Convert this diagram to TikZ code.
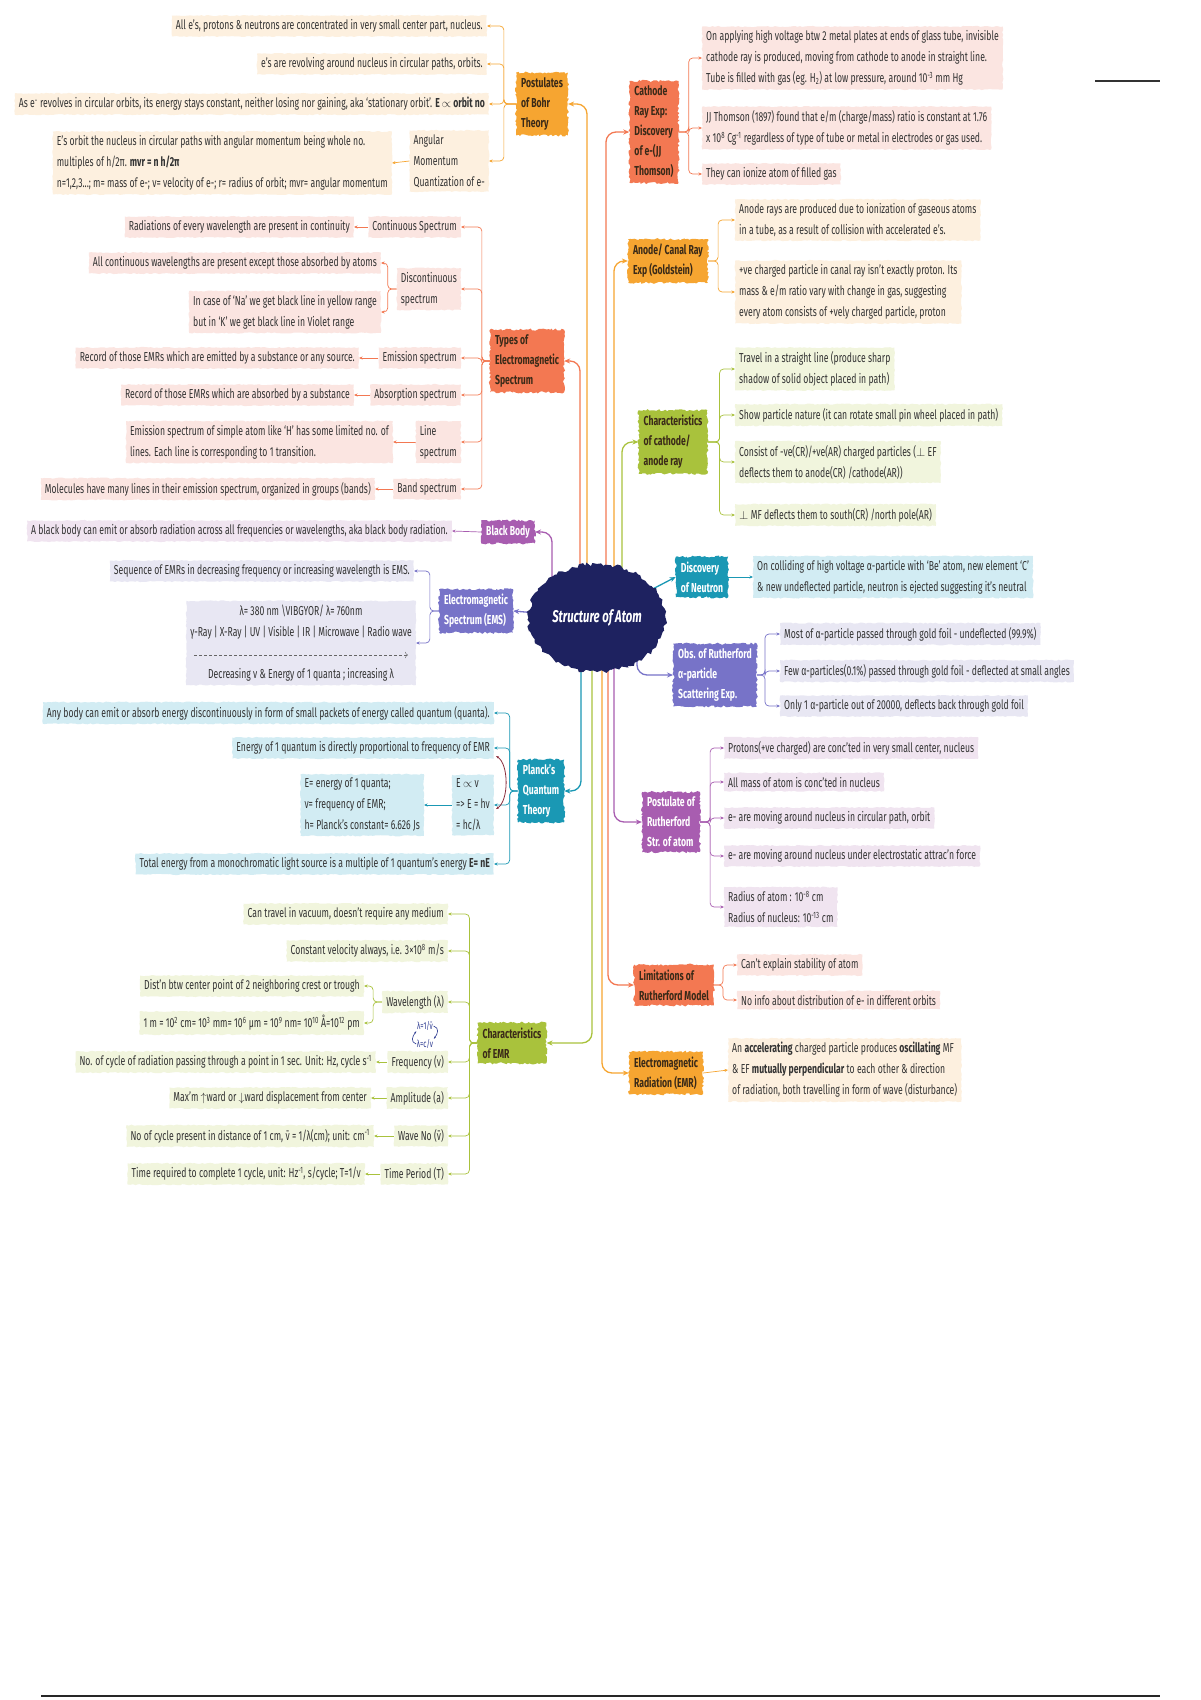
\documentclass[tikz,border=0pt]{standalone}
\usepackage{fontspec}
\setmainfont{Fira Sans}[FakeStretch=0.665]
\usetikzlibrary{positioning, arrows.meta, calc, backgrounds, decorations.pathmorphing, shapes.geometric}

\definecolor{orangeB}{HTML}{F6A531}
\definecolor{coral}{HTML}{F37852}
\definecolor{greenB}{HTML}{A9C23C}
\definecolor{teal}{HTML}{1A98B4}
\definecolor{slate}{HTML}{7773C8}
\definecolor{purpleB}{HTML}{A85DB0}
\definecolor{navy}{HTML}{1E2260}
\definecolor{peach}{HTML}{FDF0DF}
\definecolor{pink}{HTML}{FBE5E1}
\definecolor{lgreen}{HTML}{F1F5DD}
\definecolor{cyan}{HTML}{D2ECF3}
\definecolor{lavender}{HTML}{E8E7F3}
\definecolor{mauve}{HTML}{F0E4F0}
\definecolor{darktxt}{HTML}{3A2A18}
\definecolor{ink}{HTML}{2B3990}
\definecolor{maroon}{HTML}{8B2D3C}

\newcommand{\kidfont}{\fontsize{13}{21}\selectfont}
\newcommand{\topicfont}{\fontsize{13}{20}\selectfont\bfseries}
\newcommand{\atomfont}{\fontsize{17}{20}\selectfont\bfseries\itshape}

\pgfmathsetseed{7}

\begin{document}
\begin{tikzpicture}[x=1pt, y=-1pt,
    kid/.style={fill=#1, inner sep=4pt, align=left, text=black!80, font=\kidfont,
        decorate, decoration={random steps, segment length=2.5pt, amplitude=0.6pt}},
    topic/.style={fill=#1, inner sep=5pt, align=left, font=\topicfont,
        decorate, decoration={random steps, segment length=2pt, amplitude=1.1pt}},
    hot/.style={topic=#1, text=darktxt},
    cool/.style={topic=#1, text=white},
    link/.style={draw=#1, line width=0.7pt, rounded corners=4pt, -{Stealth[length=3.5pt,width=3pt]}},
    trunk/.style={draw=#1, line width=1.3pt, rounded corners=10pt, -{Stealth[length=6pt,width=5pt]}}]

\begin{scope}[on background layer]
    \fill[white] (0,0) rectangle (1200,1700);
\end{scope}
\useasboundingbox (0,0) rectangle (1200,1700);

% centre
\node[ellipse, fill=navy, text=white, font=\atomfont, minimum width=137pt, minimum height=108pt, inner sep=0pt,
    decorate, decoration={random steps, segment length=3pt, amplitude=2pt}] (atom) at (597,618) {Structure of Atom};

% Bohr
\node[hot=orangeB] (bohr) at (542,104) {Postulates\\of Bohr\\Theory};
\node[kid=peach, anchor=east] (bohr1) at (487,26) {All e's, protons \& neutrons are concentrated in very small center part, nucleus.};
\node[kid=peach, anchor=east] (bohr2) at (487,64) {e's are revolving around nucleus in circular paths, orbits.};
\node[kid=peach, anchor=east] (bohr3) at (489,104) {As e\textsuperscript{-} revolves in circular orbits, its energy stays constant, neither losing nor gaining, aka `stationary orbit'. \textbf{E $\propto$ orbit no}};
\node[kid=peach, anchor=east] (bohr4) at (489,161) {Angular\\Momentum\\Quantization of e-};
\node[kid=peach, anchor=east] (bohr4a) at (392,163) {E's orbit the nucleus in circular paths with angular momentum being whole no.\\multiples of h/2π. \textbf{mvr = n h/2π}\\n=1,2,3...; m= mass of e-; v= velocity of e-; r= radius of orbit; mvr= angular momentum};

% types of spectrum
\node[hot=coral] (types) at (527,361) {Types of\\Electromagnetic\\Spectrum};
\node[kid=pink, anchor=east] (cont) at (461,227) {Continuous Spectrum};
\node[kid=pink, anchor=east] (conta) at (354,227) {Radiations of every wavelength are present in continuity};
\node[kid=pink, anchor=east] (disc) at (461,289) {Discontinuous\\spectrum};
\node[kid=pink, anchor=east] (disca) at (381,263) {All continuous wavelengths are present except those absorbed by atoms};
\node[kid=pink, anchor=east] (discb) at (381,312) {In case of `Na' we get black line in yellow range\\but in `K' we get black line in Violet range};
\node[kid=pink, anchor=east] (emis) at (461,358) {Emission spectrum};
\node[kid=pink, anchor=east] (emisa) at (359,358) {Record of those EMRs which are emitted by a substance or any source.};
\node[kid=pink, anchor=east] (abso) at (461,395) {Absorption spectrum};
\node[kid=pink, anchor=east] (absoa) at (354,395) {Record of those EMRs which are absorbed by a substance};
\node[kid=pink, anchor=east] (lspec) at (461,442) {Line\\spectrum};
\node[kid=pink, anchor=east] (lspeca) at (393,442) {Emission spectrum of simple atom like `H' has some limited no. of\\lines. Each line is corresponding to 1 transition.};
\node[kid=pink, anchor=east] (band) at (461,489) {Band spectrum};
\node[kid=pink, anchor=east] (banda) at (375,489) {Molecules have many lines in their emission spectrum, organized in groups (bands)};

% black body
\node[cool=purpleB] (bbody) at (508,532) {Black Body};
\node[kid=mauve, anchor=east] (bbodya) at (452,531) {A black body can emit or absorb radiation across all frequencies or wavelengths, aka black body radiation.};

% EMS
\node[cool=slate] (ems) at (476,611) {Electromagnetic\\Spectrum (EMS)};
\node[kid=lavender, anchor=east] (ems1) at (414,571) {Sequence of EMRs in decreasing frequency or increasing wavelength is EMS.};
\node[kid=lavender, anchor=east, align=center] (ems2) at (416,643) {λ= 380 nm \textbackslash VIBGYOR/ λ= 760nm\\γ-Ray | X-Ray | UV | Visible | IR | Microwave | Radio wave\\ \mbox{}\\Decreasing ν \& Energy of 1 quanta ; increasing λ};
\draw[densely dashed, -{To[length=3pt]}, black!60] ($(ems2.west)+(8,12)$) -- ($(ems2.east)+(-8,12)$);

% Planck
\node[cool=teal] (planck) at (541,791) {Planck's\\Quantum\\Theory};
\node[kid=cyan, anchor=east] (planck1) at (494,713) {Any body can emit or absorb energy discontinuously in form of small packets of energy called quantum (quanta).};
\node[kid=cyan, anchor=east] (planck2) at (494,748) {Energy of 1 quantum is directly proportional to frequency of EMR};
\node[kid=cyan, anchor=east] (planck3) at (494,805) {E $\propto$ ν\\=\textgreater{} E = hν\\= hc/λ};
\node[kid=cyan, anchor=east] (planck3a) at (424,805) {E= energy of 1 quanta;\\ν= frequency of EMR;\\h= Planck's constant= 6.626 Js};
\node[kid=cyan, anchor=east] (planck4) at (494,864) {Total energy from a monochromatic light source is a multiple of 1 quantum's energy \textbf{E= nE}};
\draw[{Stealth[length=3pt]}-{Stealth[length=3pt]}, maroon, line width=0.8pt]
    ($(planck2.east)+(2,8)$) .. controls +(13,8) and +(13,-8) .. ($(planck3.east)+(2,4)$);

% characteristics of EMR
\node[hot=greenB] (cemr) at (512,1043) {Characteristics\\of EMR};
\node[kid=lgreen, anchor=east] (cemr1) at (448,914) {Can travel in vacuum, doesn't require any medium};
\node[kid=lgreen, anchor=east] (cemr2) at (448,951) {Constant velocity always, i.e. 3×10\textsuperscript{8} m/s};
\node[kid=lgreen, anchor=east] (wavel) at (448,1002) {Wavelength (λ)};
\node[kid=lgreen, anchor=east] (wavela) at (364,986) {Dist'n btw center point of 2 neighboring crest or trough};
\node[kid=lgreen, anchor=east] (wavelb) at (364,1023) {1 m = 10\textsuperscript{2} cm= 10\textsuperscript{3} mm= 10\textsuperscript{6} μm = 10\textsuperscript{9} nm= 10\textsuperscript{10} Å=10\textsuperscript{12} pm};
\node[text=ink, font=\fontsize{10}{12}\selectfont, inner sep=0.5pt] (lamA) at (425,1026) {λ=1/ν̄};
\node[text=ink, font=\fontsize{10}{12}\selectfont, inner sep=0.5pt] (lamB) at (425,1044) {λ=c/ν};
\draw[ink, line width=0.6pt, -{Stealth[length=2.5pt]}] (lamA.east) .. controls +(6,2) and +(4,-5) .. (lamB.north east);
\draw[ink, line width=0.6pt, -{Stealth[length=2.5pt]}] (lamB.west) .. controls +(-6,-2) and +(-4,5) .. (lamA.south west);
\node[kid=lgreen, anchor=east] (freq) at (448,1062) {Frequency (ν)};
\node[kid=lgreen, anchor=east] (freqa) at (376,1062) {No. of cycle of radiation passing through a point in 1 sec. Unit: Hz, cycle s\textsuperscript{-1}};
\node[kid=lgreen, anchor=east] (ampl) at (448,1098) {Amplitude (a)};
\node[kid=lgreen, anchor=east] (ampla) at (371,1098) {Max'm $\uparrow$ward or $\downarrow$ward displacement from center};
\node[kid=lgreen, anchor=east] (wnum) at (448,1136) {Wave No (ν̄)};
\node[kid=lgreen, anchor=east] (wnuma) at (374,1136) {No of cycle present in distance of 1 cm, ν̄ = 1/λ(cm); unit: cm\textsuperscript{-1}};
\node[kid=lgreen, anchor=east] (tper) at (448,1174) {Time Period (T)};
\node[kid=lgreen, anchor=east] (tpera) at (365,1174) {Time required to complete 1 cycle, unit: Hz\textsuperscript{-1}, s/cycle; T=1/ν};

% cathode ray
\node[hot=coral] (cathode) at (654,132) {Cathode\\Ray Exp:\\Discovery\\of e-(JJ\\Thomson)};
\node[kid=pink, anchor=west] (cathode1) at (702,58) {On applying high voltage btw 2 metal plates at ends of glass tube, invisible\\cathode ray is produced, moving from cathode to anode in straight line.\\Tube is filled with gas (eg. H\textsubscript{2}) at low pressure, around 10\textsuperscript{-3} mm Hg};
\node[kid=pink, anchor=west] (cathode2) at (702,128) {JJ Thomson (1897) found that e/m (charge/mass) ratio is constant at 1.76\\x 10\textsuperscript{8} Cg\textsuperscript{-1} regardless of type of tube or metal in electrodes or gas used.};
\node[kid=pink, anchor=west] (cathode3) at (702,174) {They can ionize atom of filled gas};

% anode ray
\node[hot=orangeB] (anode) at (668,261) {Anode/ Canal Ray\\Exp (Goldstein)};
\node[kid=peach, anchor=west] (anode1) at (735,220) {Anode rays are produced due to ionization of gaseous atoms\\in a tube, as a result of collision with accelerated e's.};
\node[kid=peach, anchor=west] (anode2) at (735,292) {+ve charged particle in canal ray isn't exactly proton. Its\\mass \& e/m ratio vary with change in gas, suggesting\\every atom consists of +vely charged particle, proton};

% characteristics of rays
\node[hot=greenB] (cray) at (673,442) {Characteristics\\of cathode/\\anode ray};
\node[kid=lgreen, anchor=west] (cray1) at (735,369) {Travel in a straight line (produce sharp\\shadow of solid object placed in path)};
\node[kid=lgreen, anchor=west] (cray2) at (735,415) {Show particle nature (it can rotate small pin wheel placed in path)};
\node[kid=lgreen, anchor=west] (cray3) at (735,462) {Consist of -ve(CR)/+ve(AR) charged particles ($\perp$ EF\\deflects them to anode(CR) /cathode(AR))};
\node[kid=lgreen, anchor=west] (cray4) at (735,515) {$\perp$ MF deflects them to south(CR) /north pole(AR)};

% neutron
\node[cool=teal] (neutron) at (702,577) {Discovery\\of Neutron};
\node[kid=cyan, anchor=west] (neutron1) at (753,577) {On colliding of high voltage α-particle with `Be' atom, new element `C'\\\& new undeflected particle, neutron is ejected suggesting it's neutral};

% scattering
\node[cool=slate] (scatter) at (715,675) {Obs. of Rutherford\\α-particle\\Scattering Exp.};
\node[kid=lavender, anchor=west] (scatter1) at (780,634) {Most of α-particle passed through gold foil - undeflected (99.9\%)};
\node[kid=lavender, anchor=west] (scatter2) at (780,671) {Few α-particles(0.1\%) passed through gold foil - deflected at small angles};
\node[kid=lavender, anchor=west] (scatter3) at (780,706) {Only 1 α-particle out of 20000, deflects back through gold foil};

% Rutherford model
\node[cool=purpleB] (rpost) at (671,822) {Postulate of\\Rutherford\\Str. of atom};
\node[kid=mauve, anchor=west] (rpost1) at (724,748) {Protons(+ve charged) are conc'ted in very small center, nucleus};
\node[kid=mauve, anchor=west] (rpost2) at (724,782) {All mass of atom is conc'ted in nucleus};
\node[kid=mauve, anchor=west] (rpost3) at (724,818) {e- are moving around nucleus in circular path, orbit};
\node[kid=mauve, anchor=west] (rpost4) at (724,856) {e- are moving around nucleus under electrostatic attrac'n force};
\node[kid=mauve, anchor=west] (rpost5) at (724,907) {Radius of atom : 10\textsuperscript{-8} cm\\Radius of nucleus: 10\textsuperscript{-13} cm};

\node[hot=coral] (limit) at (674,985) {Limitations of\\Rutherford Model};
\node[kid=pink, anchor=west] (limit1) at (737,965) {Can't explain stability of atom};
\node[kid=pink, anchor=west] (limit2) at (737,1000) {No info about distribution of e- in different orbits};

% EMR
\node[hot=orangeB] (emr) at (666,1073) {Electromagnetic\\Radiation (EMR)};
\node[kid=peach, anchor=west] (emr1) at (728,1070) {An \textbf{accelerating} charged particle produces \textbf{oscillating} MF\\\& EF \textbf{mutually perpendicular} to each other \& direction\\of radiation, both travelling in form of wave (disturbance)};

\draw[line width=2pt, black!80] (1095,81) -- (1160,81);
\draw[line width=1.5pt, black!85] (41,1696) -- (1160,1696);

\begin{scope}[on background layer]
    % trunks
    \draw[trunk=coral] ($(atom.center)+(-17,0)$) |- (types.east);
    \draw[trunk=orangeB] ($(atom.center)+(-10,0)$) |- (bohr.east);
    \draw[trunk=purpleB] ($(atom.center)+(-45,0)$) |- (bbody.east);
    \draw[trunk=slate] (atom.center) -- (ems.east);
    \draw[trunk=coral] ($(atom.center)+(9,0)$) |- (cathode.west);
    \draw[trunk=orangeB] ($(atom.center)+(17,0)$) |- (anode.west);
    \draw[trunk=greenB] ($(atom.center)+(25,0)$) |- (cray.west);
    \draw[trunk=teal] (atom.center) -- (neutron.west);
    \draw[trunk=slate] ($(atom.center)+(40,0)$) |- (scatter.west);
    \draw[trunk=teal] ($(atom.center)+(-16,0)$) |- (planck.east);
    \draw[trunk=greenB] ($(atom.center)+(-5,0)$) |- (cemr.east);
    \draw[trunk=orangeB] ($(atom.center)+(5,0)$) |- (emr.west);
    \draw[trunk=coral] ($(atom.center)+(11,0)$) |- (limit.west);
    \draw[trunk=purpleB] ($(atom.center)+(17,0)$) |- (rpost.west);

    % left groups
    \foreach \k in {bohr1,bohr2,bohr3,bohr4} \draw[link=orangeB] (bohr.west) -- ++(-12,0) |- (\k.east);
    \draw[link=orangeB] (bohr4.west) -- (bohr4a.east);
    \foreach \k in {cont,disc,emis,abso,lspec,band} \draw[link=coral] (types.west) -- ++(-8,0) |- (\k.east);
    \foreach \k in {disca,discb} \draw[link=coral] (disc.west) -- ++(-9,0) |- (\k.east);
    \draw[link=coral] (cont.west) -- (conta.east);
    \draw[link=coral] (emis.west) -- (emisa.east);
    \draw[link=coral] (abso.west) -- (absoa.east);
    \draw[link=coral] (lspec.west) -- (lspeca.east);
    \draw[link=coral] (band.west) -- (banda.east);
    \draw[link=purpleB] (bbody.west) -- (bbodya.east);
    \foreach \k in {ems1,ems2} \draw[link=slate] (ems.west) -- ++(-9,0) |- (\k.east);
    \foreach \k in {planck1,planck2,planck3,planck4} \draw[link=teal] (planck.west) -- ++(-8,0) |- (\k.east);
    \draw[link=teal] (planck3.west) -- (planck3a.east);
    \foreach \k in {cemr1,cemr2,wavel,freq,ampl,wnum,tper} \draw[link=greenB] (cemr.west) -- ++(-8,0) |- (\k.east);
    \foreach \k in {wavela,wavelb} \draw[link=greenB] (wavel.west) -- ++(-9,0) |- (\k.east);
    \draw[link=greenB] (freq.west) -- (freqa.east);
    \draw[link=greenB] (ampl.west) -- (ampla.east);
    \draw[link=greenB] (wnum.west) -- (wnuma.east);
    \draw[link=greenB] (tper.west) -- (tpera.east);

    % right groups
    \foreach \k in {cathode1,cathode2,cathode3} \draw[link=coral] (cathode.east) -- ++(10,0) |- (\k.west);
    \foreach \k in {anode1,anode2} \draw[link=orangeB] (anode.east) -- ++(10,0) |- (\k.west);
    \foreach \k in {cray1,cray2,cray3,cray4} \draw[link=greenB] (cray.east) -- ++(12,0) |- (\k.west);
    \draw[link=teal] (neutron.east) -- (neutron1.west);
    \foreach \k in {scatter1,scatter2,scatter3} \draw[link=slate] (scatter.east) -- ++(8,0) |- (\k.west);
    \foreach \k in {rpost1,rpost2,rpost3,rpost4,rpost5} \draw[link=purpleB] (rpost.east) -- ++(10,0) |- (\k.west);
    \foreach \k in {limit1,limit2} \draw[link=coral] (limit.east) -- ++(9,0) |- (\k.west);
    \draw[link=orangeB] (emr.east) -- (emr1.west);
\end{scope}
\end{tikzpicture}
\end{document}
